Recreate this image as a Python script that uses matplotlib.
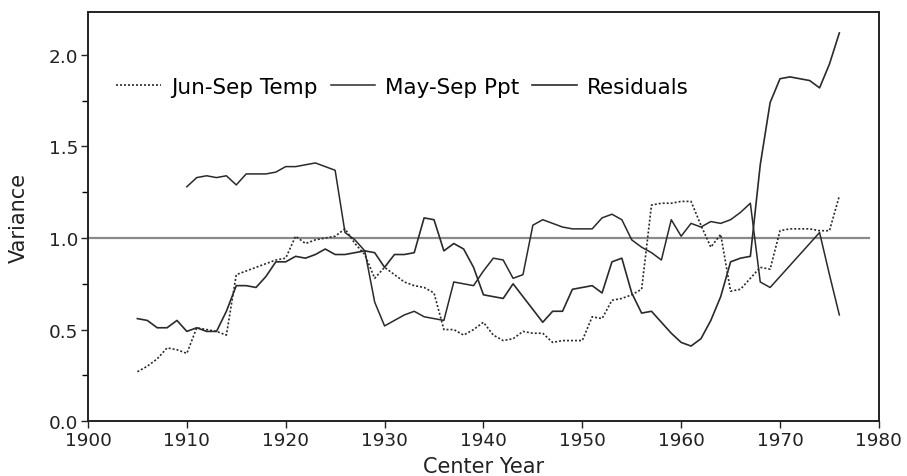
import matplotlib
matplotlib.use("Agg")
import matplotlib.pyplot as plt
import numpy as np
from matplotlib.ticker import MultipleLocator

# running variance, center years
temp_years = np.arange(1905, 1977)
temp = [0.27, 0.30, 0.34, 0.40, 0.39, 0.37, 0.51, 0.50, 0.49, 0.47,
        0.80, 0.82, 0.84, 0.86, 0.88, 0.89, 1.01, 0.97, 0.99, 1.00,
        1.01, 1.05, 0.97, 0.91, 0.78, 0.84, 0.80, 0.76, 0.74, 0.73,
        0.70, 0.50, 0.50, 0.47, 0.50, 0.54, 0.47, 0.44, 0.45, 0.49,
        0.48, 0.48, 0.43, 0.44, 0.44, 0.44, 0.57, 0.56, 0.66, 0.67,
        0.69, 0.72, 1.18, 1.19, 1.19, 1.20, 1.20, 1.07, 0.95, 1.02,
        0.71, 0.72, 0.78, 0.84, 0.83, 1.04, 1.05, 1.05, 1.05, 1.04,
        1.04, 1.23]

ppt_years = np.arange(1910, 1977)
ppt = [1.28, 1.33, 1.34, 1.33, 1.34, 1.29, 1.35, 1.35, 1.35, 1.36,
       1.39, 1.39, 1.40, 1.41, 1.39, 1.37, 1.03, 0.99, 0.93, 0.65,
       0.52, 0.55, 0.58, 0.60, 0.57, 0.56, 0.55, 0.76, 0.75, 0.74,
       0.82, 0.89, 0.88, 0.78, 0.80, 1.07, 1.10, 1.08, 1.06, 1.05,
       1.05, 1.05, 1.11, 1.13, 1.10, 0.99, 0.95, 0.92, 0.88, 1.10,
       1.01, 1.08, 1.06, 1.09, 1.08, 1.10, 1.14, 1.19, 0.76, 0.73,
       0.79, 0.85, 0.91, 0.97, 1.03, 0.80, 0.58]

res_years = np.arange(1905, 1977)
res = [0.56, 0.55, 0.51, 0.51, 0.55, 0.49, 0.51, 0.49, 0.49, 0.60,
       0.74, 0.74, 0.73, 0.79, 0.87, 0.87, 0.90, 0.89, 0.91, 0.94,
       0.91, 0.91, 0.92, 0.93, 0.92, 0.84, 0.91, 0.91, 0.92, 1.11,
       1.10, 0.93, 0.97, 0.94, 0.84, 0.69, 0.68, 0.67, 0.75, 0.68,
       0.61, 0.54, 0.60, 0.60, 0.72, 0.73, 0.74, 0.70, 0.87, 0.89,
       0.70, 0.59, 0.60, 0.54, 0.48, 0.43, 0.41, 0.45, 0.55, 0.68,
       0.87, 0.89, 0.90, 1.40, 1.74, 1.87, 1.88, 1.87, 1.86, 1.82,
       1.95, 2.12]

plt.rcParams['font.family'] = ['DejaVu Sans']

fig = plt.figure(figsize=(9.07, 4.77), dpi=100)
ax = fig.add_axes([0.097, 0.115, 0.872, 0.858])

ink = '#2a2a2a'
ax.plot([1900, 1979], [1.0, 1.0], color='#8a8a8a', lw=1.6, zorder=1)
ax.plot(temp_years, temp, color=ink, lw=1.2, ls=(0, (1.2, 1.2)), label='Jun-Sep Temp')
ax.plot(ppt_years, ppt, color=ink, lw=1.1, label='May-Sep Ppt')
ax.plot(res_years, res, color=ink, lw=1.2, label='Residuals')

ax.set_xlim(1900, 1980)
ax.set_ylim(0, 2.235)
ax.set_xticks(np.arange(1900, 1981, 10))
ax.yaxis.set_major_locator(MultipleLocator(0.5))
ax.yaxis.set_minor_locator(MultipleLocator(0.25))
ax.yaxis.set_major_formatter(matplotlib.ticker.FormatStrFormatter('%.1f'))
ax.tick_params(axis='both', which='major', length=5, width=1, labelsize=13.3, colors='#222222', pad=2)
ax.tick_params(axis='y', which='minor', length=4, width=1)
for s in ax.spines.values():
    s.set_linewidth(1.4)
    s.set_color('#222222')

ax.set_xlabel('Center Year', fontsize=15, color='#222222', labelpad=5)
ax.set_ylabel('Variance', fontsize=15, color='#222222', labelpad=14)

ax.legend(ncol=3, frameon=False, loc='center left', bbox_to_anchor=(0.036, 0.817),
          borderaxespad=0, borderpad=0, fontsize=15.5, handlelength=2.05,
          handletextpad=0.47, columnspacing=0.62)

fig.savefig('out.png', dpi=100)
